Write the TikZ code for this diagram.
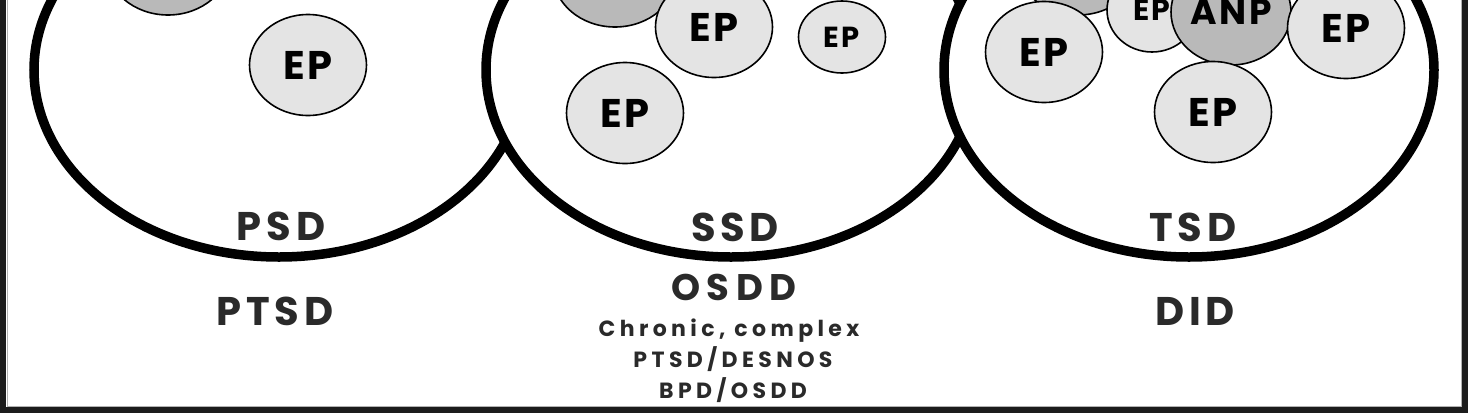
\documentclass[tikz,border=0pt]{standalone}
\usepackage{fontspec}
\setmainfont{Poppins}
\newfontfamily\epfont{Poppins}[LetterSpace=8]
\newfontfamily\labfont{Poppins}[LetterSpace=12]
\newfontfamily\osfont{Poppins}[LetterSpace=18]
\newfontfamily\smallfont{Poppins}[LetterSpace=20]
\usetikzlibrary{shapes.geometric}
\definecolor{epfill}{HTML}{E4E4E4}
\definecolor{anpfill}{HTML}{B9B9B9}
\definecolor{txt}{HTML}{2A2A2A}
\definecolor{framec}{HTML}{1C1C1C}
\begin{document}
\begin{tikzpicture}[x=1pt,y=-1pt,
  bigc/.style={ellipse, draw=black, line width=9.5pt, fill=white,
    minimum width=490pt, minimum height=374pt, inner sep=0pt},
  small/.style={ellipse, draw=black, line width=1.6pt, inner sep=0pt},
  ep/.style={small, fill=epfill, minimum width=117pt, minimum height=101pt,
    font=\epfont\bfseries\fontsize{40}{40}\selectfont},
  epsmall/.style={small, fill=epfill, minimum width=87pt, minimum height=72pt,
    font=\epfont\bfseries\fontsize{29}{29}\selectfont},
  gray/.style={small, fill=anpfill, minimum width=124pt, minimum height=106pt},
  anp/.style={small, fill=anpfill, minimum width=120pt, minimum height=106pt,
    font=\epfont\bfseries\fontsize{36}{36}\selectfont},
  biglab/.style={anchor=base, text=txt, inner sep=0pt,
    font=\labfont\bfseries\fontsize{40}{40}\selectfont},
  midlab/.style={anchor=base, text=txt, inner sep=0pt,
    font=\osfont\bfseries\fontsize{37}{37}\selectfont},
  smalllab/.style={anchor=base, text=txt, inner sep=0pt,
    font=\smallfont\bfseries\fontsize{22}{22}\selectfont}]
\useasboundingbox (0,0) rectangle (1468,413);
\fill[white] (0,0) rectangle (1468,413);
\begin{scope}
\clip (0,0) rectangle (1468,413);
% left circle
\node[bigc] (pc) at (279,70) {};
\node[gray] (g1) at (168,-38) {};
\node[ep] (e1) at (308,65) {EP};
% middle circle
\node[bigc] (sc) at (731,70) {};
\node[gray] (g2) at (615,-26) {};
\node[ep] (e2) at (714,27) {EP};
\node[epsmall] (e3) at (842,37) {EP};
\node[ep] (e4) at (625,113) {EP};
% right circle
\node[bigc] (tc) at (1189,70) {};
\node[gray] (g3) at (1078,-38) {};
\node[ep] (e5) at (1044,52) {EP};
\node[epsmall, minimum width=90pt, minimum height=84pt,
  font=\epfont\bfseries\fontsize{30}{30}\selectfont] (e6) at (1152,10) {EP};
\node[anp] (a1) at (1231,12) {ANP};
\node[ep] (e7) at (1213,112) {EP};
\node[ep] (e8) at (1346,28) {EP};
\end{scope}
% labels inside circles
\node[biglab] (psd) at (281,240) {PSD};
\node[biglab] (ssd) at (735,241) {SSD};
\node[biglab] (tsd) at (1193,241) {TSD};
% labels below
\node[biglab] (ptsd) at (275,325) {PTSD};
\node[midlab] (osdd) at (734,300) {OSDD};
\node[smalllab] (l1) at (729,336) {Chronic, complex};
\node[smalllab] (l2) at (733,367) {PTSD/DESNOS};
\node[smalllab] (l3) at (733,398) {BPD/OSDD};
\node[biglab] (did) at (1195,325) {DID};
% frame
\fill[framec] (0,0) rectangle (6,413);
\fill[framec] (1462,0) rectangle (1468,413);
\fill[framec] (0,407) rectangle (1468,413);
\draw[gray!60, line width=0.8pt] (7,0) -- (7,406) -- (1461,406) -- (1461,0);
\end{tikzpicture}
\end{document}
